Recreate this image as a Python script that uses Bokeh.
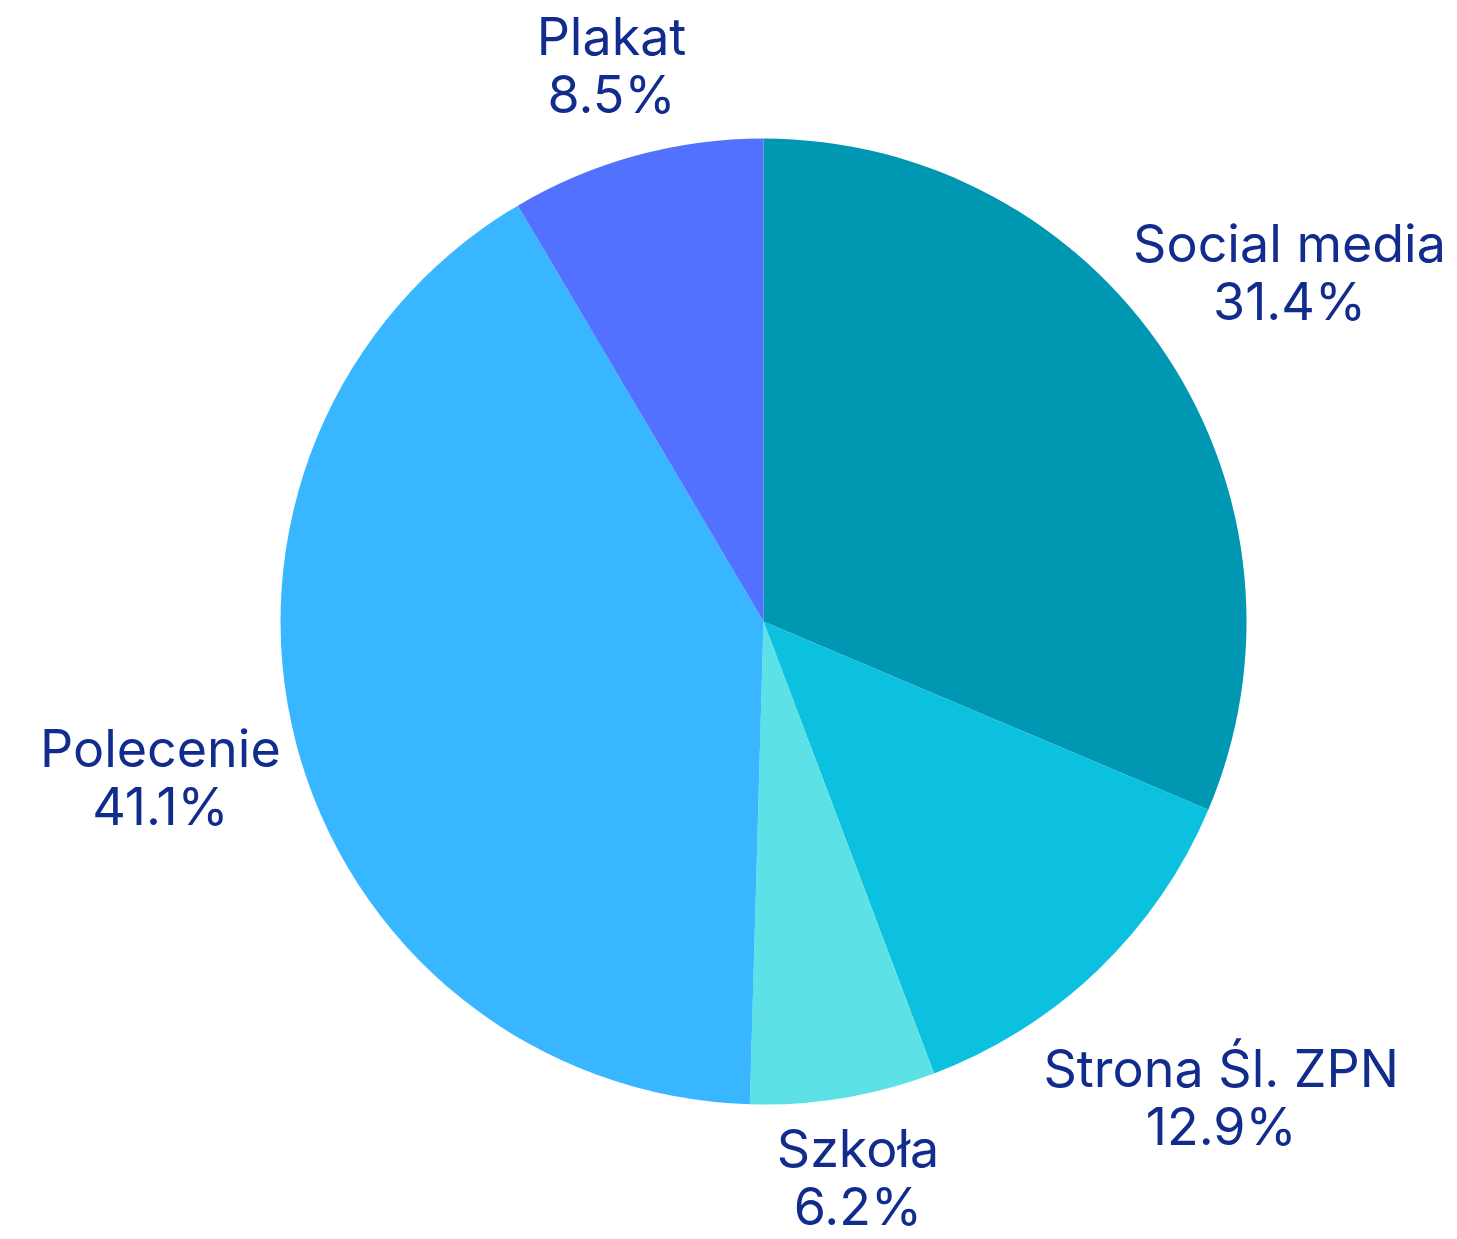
import math
from bokeh.plotting import figure
from bokeh.models import ColumnDataSource
from bokeh.core.properties import value
from bokeh.embed import file_html
from bokeh.resources import INLINE

# Data (clockwise from 12 o'clock)
categories = ["Social media", "Strona Śl. ZPN", "Szkoła", "Polecenie", "Plakat"]
shares = [31.4, 12.9, 6.2, 41.1, 8.5]
colors = ["#0097B2", "#0CC0DF", "#5CE1E6", "#38B6FF", "#5271FF"]

W, H = 1457, 1239
cx, cy, R = 763, H - 621, 483
FS = 52
TEXT_COLOR = "#112C8C"

total = sum(shares)
starts, ends, mids = [], [], []
a = math.pi / 2
for s in shares:
    sweep = s / total * 2 * math.pi
    starts.append(a)
    ends.append(a - sweep)
    mids.append(a - sweep / 2)
    a -= sweep

p = figure(width=W, height=H, x_range=(0, W), y_range=(0, H),
           output_backend="svg", toolbar_location=None, min_border=0)
p.axis.visible = False
p.grid.visible = False
p.outline_line_color = None
p.background_fill_color = "white"

src = ColumnDataSource(dict(x=[cx] * len(shares), y=[cy] * len(shares),
                            start=starts, end=ends, color=colors))
p.wedge(x="x", y="y", radius=R, start_angle="start", end_angle="end",
        direction="clock", fill_color="color", line_color=None, source=src)

# label positions: box placed outside the pie along mid angle, kept inside the canvas
gap = 22
edge = 12
half_block = 29 + 0.6 * FS  # from block centre to outer edge of a text line box
lx, ly, names, pcts = [], [], [], []
for name, s, m in zip(categories, shares, mids):
    pct = f"{s:.1f}%"
    w = max(len(name), len(pct)) * 0.46 * FS
    h = 2.1 * FS
    c, sn = math.cos(m), math.sin(m)
    ext = abs(c) * w / 2 + abs(sn) * h / 2
    r = R + gap + ext
    wfull = max(len(name), len(pct)) * 0.5 * FS
    if c > 0 and cx + r * c + wfull / 2 > W - edge:
        r = (W - edge - wfull / 2 - cx) / c
    if c < 0 and cx + r * c - wfull / 2 < edge:
        r = (cx - edge - wfull / 2) / (-c)
    x = cx + r * c
    y = cy + r * sn
    y = min(max(y, half_block + 2), H - half_block - 2)
    lx.append(x)
    ly.append(y)
    names.append(name)
    pcts.append(pct)

lsrc = ColumnDataSource(dict(x=lx, y1=[v + 29 for v in ly], y2=[v - 29 for v in ly],
                             name=names, pct=pcts))
for ycol, tcol in (("y1", "name"), ("y2", "pct")):
    p.text(x="x", y=ycol, text=tcol, source=lsrc, text_align="center",
           text_baseline="middle", text_font=value("Inter"),
           text_font_size=f"{FS}px", text_color=TEXT_COLOR)

open("out.html", "w").write(file_html(p, INLINE))
